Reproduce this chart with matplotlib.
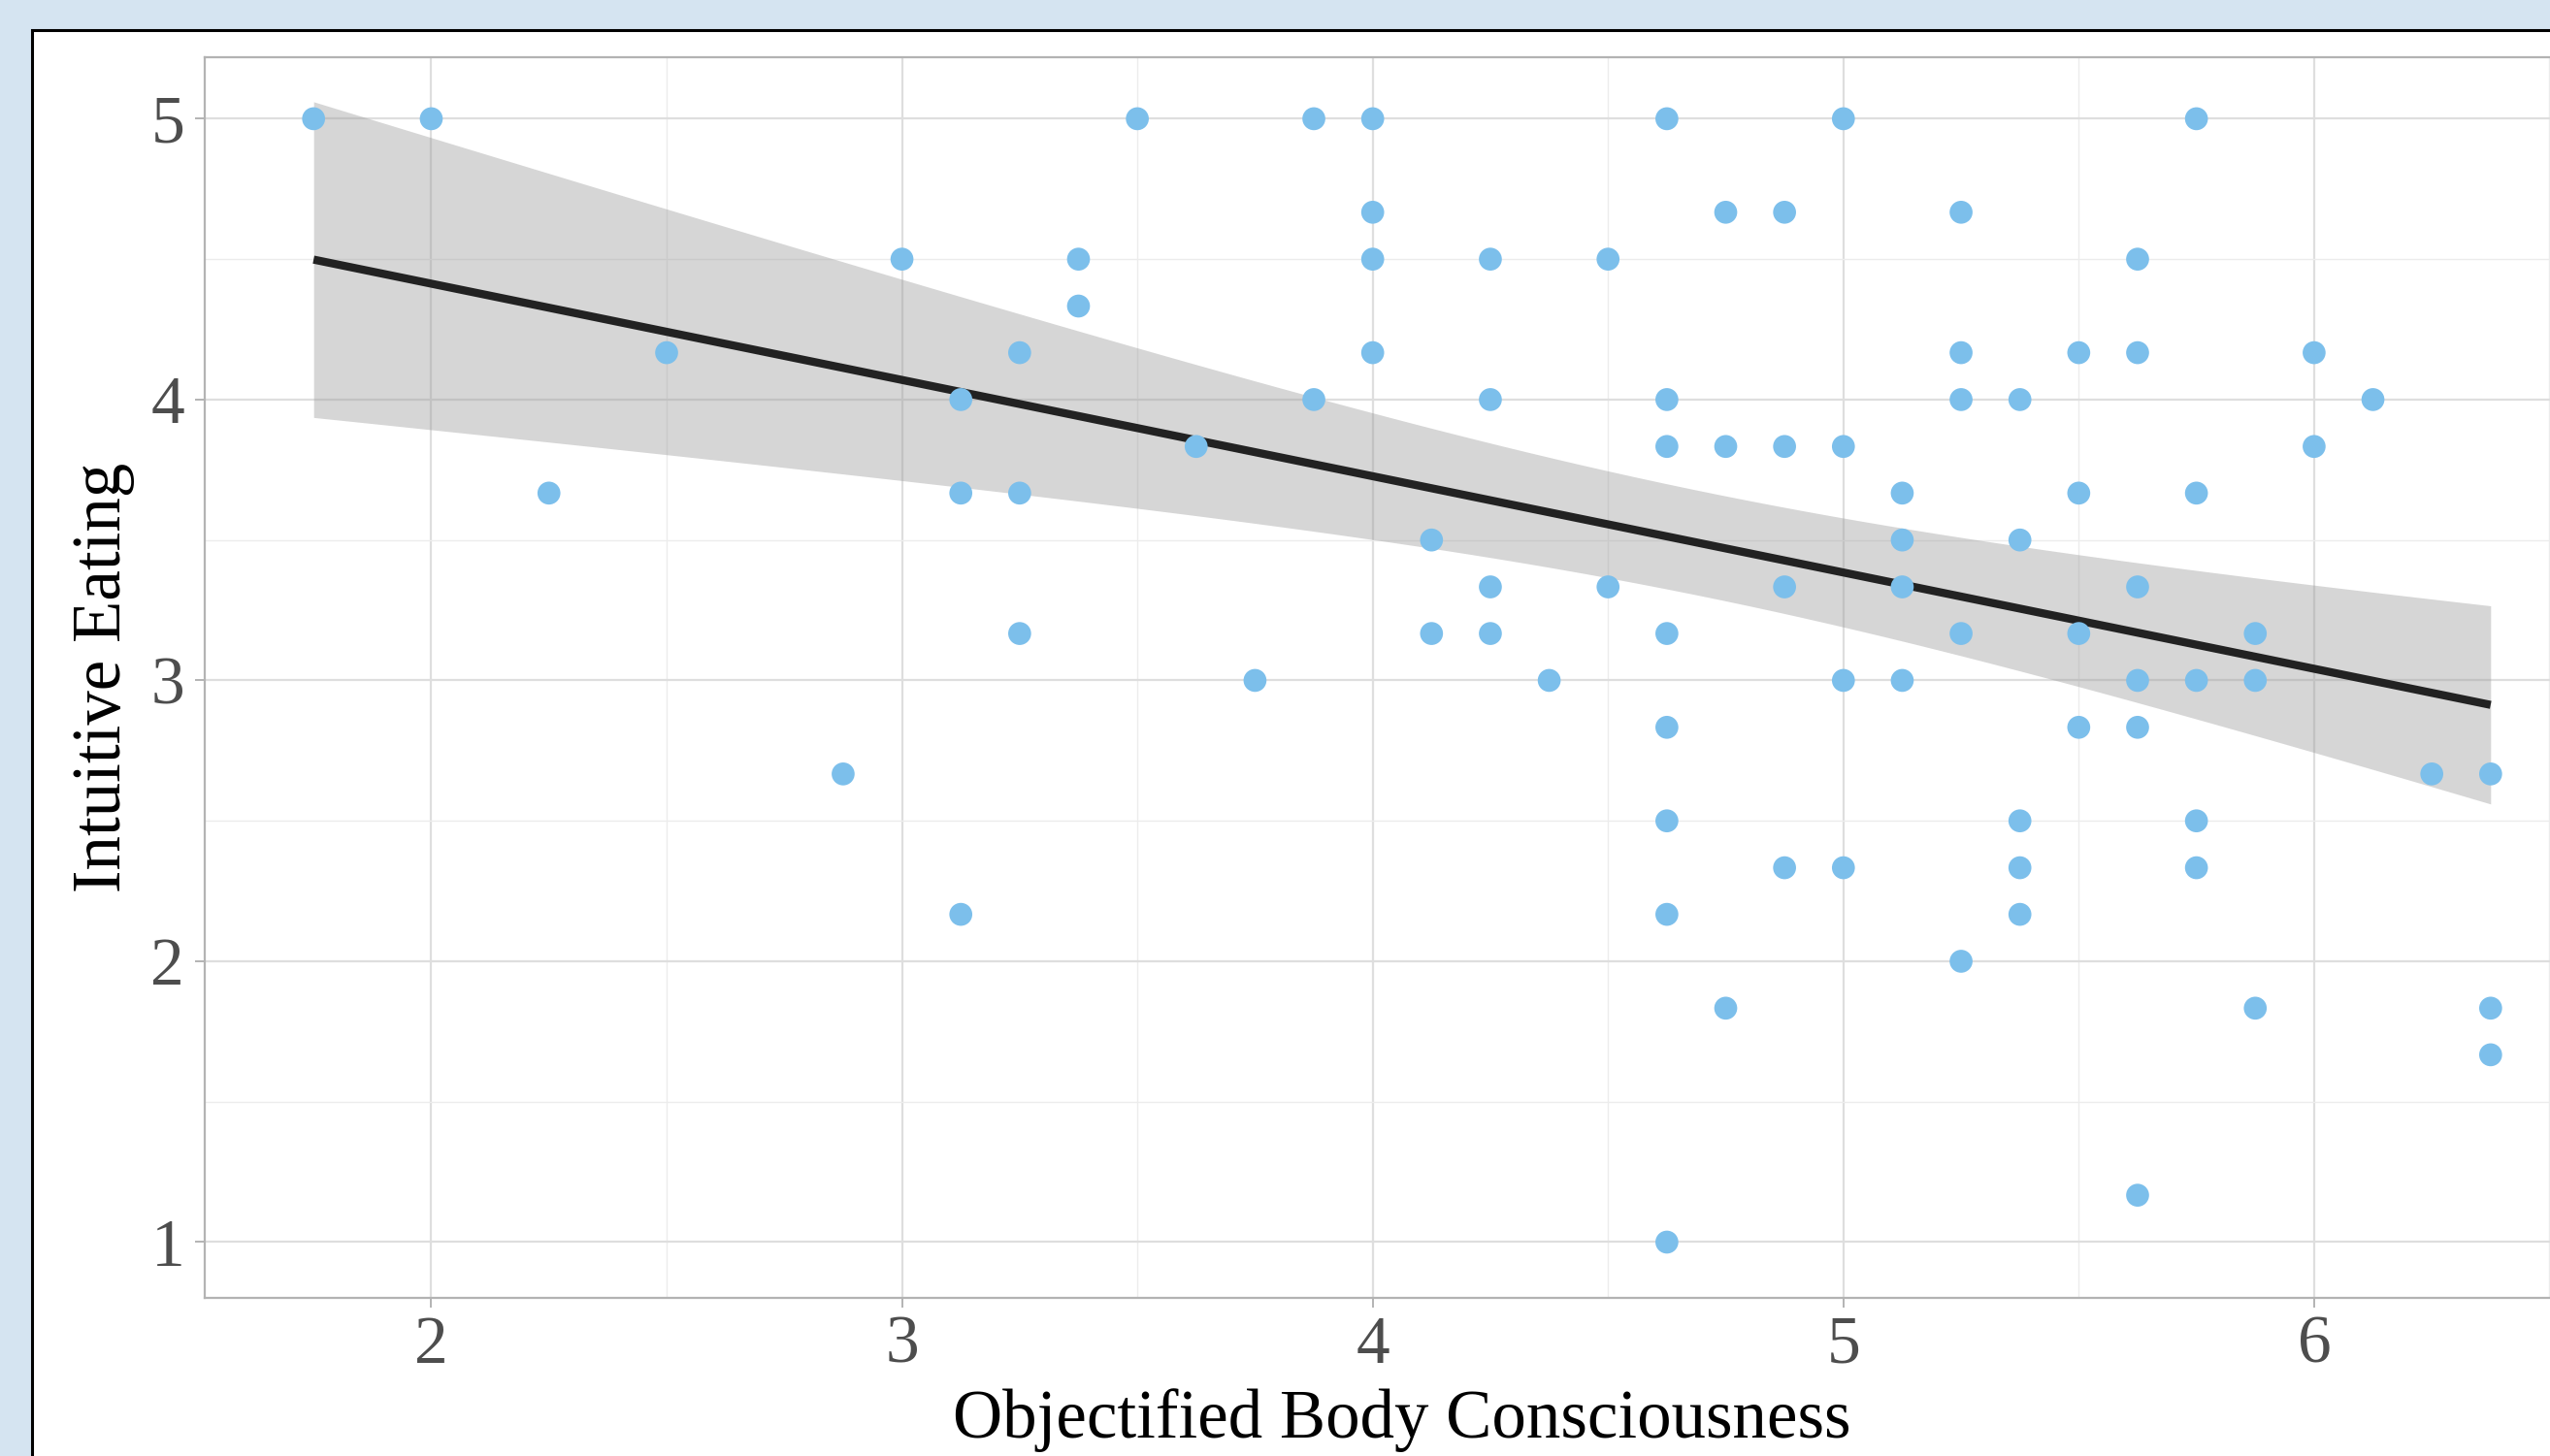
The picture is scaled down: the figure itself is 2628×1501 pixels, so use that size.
import numpy as np
import matplotlib
matplotlib.use("Agg")
import matplotlib.pyplot as plt
from matplotlib.patches import Rectangle
from matplotlib.ticker import MultipleLocator

# Data
obc = [1.75, 2.0, 2.25, 2.5, 2.875, 3.0, 3.125, 3.125, 3.125, 3.25, 3.25, 3.25,
       3.375, 3.375, 3.5, 3.625, 3.75, 3.875, 3.875, 4.0, 4.0, 4.0, 4.0,
       4.125, 4.125, 4.25, 4.25, 4.25, 4.25, 4.375, 4.5, 4.5,
       4.625, 4.625, 4.625, 4.625, 4.625, 4.625, 4.625, 4.625,
       4.75, 4.75, 4.75, 4.875, 4.875, 4.875, 4.875,
       5.0, 5.0, 5.0, 5.0, 5.125, 5.125, 5.125, 5.125,
       5.25, 5.25, 5.25, 5.25, 5.25, 5.375, 5.375, 5.375, 5.375, 5.375,
       5.5, 5.5, 5.5, 5.5, 5.625, 5.625, 5.625, 5.625, 5.625, 5.625,
       5.75, 5.75, 5.75, 5.75, 5.75, 5.875, 5.875, 5.875,
       6.0, 6.0, 6.125, 6.25, 6.375, 6.375, 6.375]
ie = [5.0, 5.0, 3.667, 4.167, 2.667, 4.5, 4.0, 3.667, 2.167, 4.167, 3.667, 3.167,
      4.5, 4.333, 5.0, 3.833, 3.0, 5.0, 4.0, 5.0, 4.667, 4.5, 4.167,
      3.5, 3.167, 4.5, 4.0, 3.333, 3.167, 3.0, 4.5, 3.333,
      5.0, 4.0, 3.833, 3.167, 2.833, 2.5, 2.167, 1.0,
      4.667, 3.833, 1.833, 4.667, 3.833, 3.333, 2.333,
      5.0, 3.833, 3.0, 2.333, 3.667, 3.5, 3.333, 3.0,
      4.667, 4.167, 4.0, 3.167, 2.0, 4.0, 3.5, 2.5, 2.333, 2.167,
      4.167, 3.667, 3.167, 2.833, 4.5, 4.167, 3.333, 3.0, 2.833, 1.167,
      5.0, 3.667, 3.0, 2.5, 2.333, 3.167, 3.0, 1.833,
      4.167, 3.833, 4.0, 2.667, 2.667, 1.833, 1.667]
x_ticks = [2, 3, 4, 5, 6]
y_ticks = [1, 2, 3, 4, 5]
y_limits = (0.8, 5.22)
x_label = "Objectified Body Consciousness"
y_label = "Intuitive Eating"

x = np.array(obc)
y = np.array(ie)

# linear model with 95% confidence band (like geom_smooth(method = "lm"))
n = len(x)
b1, b0 = np.polyfit(x, y, 1)
resid = y - (b0 + b1 * x)
s = np.sqrt(np.sum(resid ** 2) / (n - 2))
sxx = np.sum((x - x.mean()) ** 2)
tcrit = 1.987
xs = np.linspace(x.min(), x.max(), 80)
ys = b0 + b1 * xs
se = s * np.sqrt(1.0 / n + (xs - x.mean()) ** 2 / sxx)
lo, hi = ys - tcrit * se, ys + tcrit * se

W, H = 2628, 1501
fig = plt.figure(figsize=(W / 100, H / 100), dpi=100, facecolor="#d5e4f1")

# white panel with black border (extends beyond the crop)
panel = Rectangle((33 / W, -0.2), 1.2, 0.2 + (H - 31) / H,
                  transform=fig.transFigure, facecolor="white",
                  edgecolor="black", linewidth=2.2, zorder=-5)
fig.patches.append(panel)

ax_l, ax_r, ax_t, ax_b = 211, 2679, 58.7, 1338.4
ax = fig.add_axes([ax_l / W, (H - ax_b) / H, (ax_r - ax_l) / W, (ax_b - ax_t) / H])
ax.set_facecolor("white")
ax.set_zorder(1)

xr = x.max() - x.min()
ax.set_xlim(x.min() - 0.05 * xr, x.max() + 0.05 * xr)
ax.set_ylim(*y_limits)

ax.set_xticks(x_ticks)
ax.set_yticks(y_ticks)
ax.xaxis.set_minor_locator(MultipleLocator(0.5))
ax.yaxis.set_minor_locator(MultipleLocator(0.5))
ax.grid(which="major", color="#dedede", linewidth=1.6)
ax.grid(which="minor", color="#ececec", linewidth=1.0)
ax.set_axisbelow(True)
for sp in ax.spines.values():
    sp.set_color("#b3b3b3")
    sp.set_linewidth(1.6)
ax.tick_params(which="major", length=7, width=1.4, color="#b3b3b3",
               labelcolor="#4d4d4d", labelsize=50)
ax.tick_params(axis="x", pad=6)
ax.tick_params(axis="y", pad=8)
ax.tick_params(which="minor", length=0)
for lab in ax.get_xticklabels() + ax.get_yticklabels():
    lab.set_fontfamily("Liberation Serif")

ax.fill_between(xs, lo, hi, color="#999999", alpha=0.4, linewidth=0, zorder=2)
ax.plot(xs, ys, color="#222222", linewidth=6, zorder=3, solid_capstyle="butt")
ax.scatter(x, y, s=290, color="#7cbfeb", edgecolors="none", zorder=4)

ax.set_xlabel(x_label, fontsize=51, family="Liberation Serif", color="black", labelpad=8)
ax.set_ylabel(y_label, fontsize=51, family="Liberation Serif", color="black", labelpad=12)

fig.savefig("out.png", dpi=100, facecolor=fig.get_facecolor())
